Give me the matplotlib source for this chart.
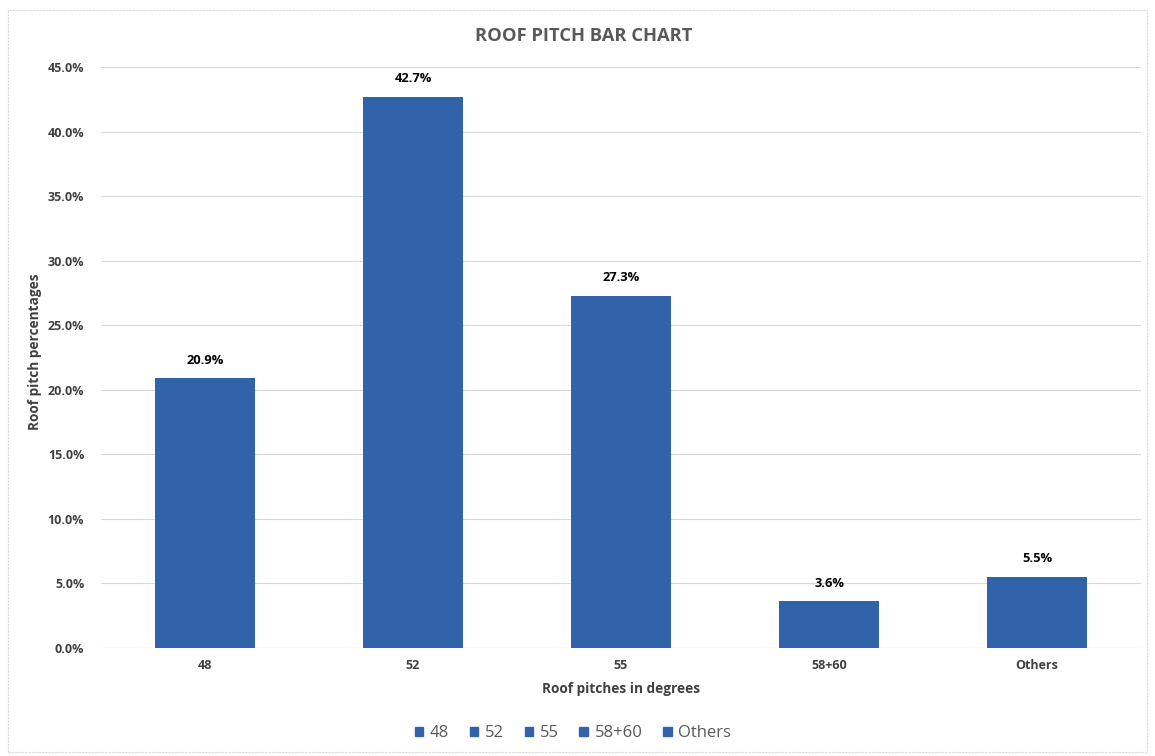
import numpy as np
import matplotlib.pyplot as plt
from matplotlib.patches import Rectangle
from matplotlib.ticker import FuncFormatter

# Roof pitch distribution
pitches = ['48', '52', '55', '58+60', 'Others']
percentages = [20.9, 42.7, 27.3, 3.6, 5.5]

bar_color = '#3262AA'
text_color = '#404040'

plt.rcParams['font.family'] = ['Open Sans', 'DejaVu Sans']

fig = plt.figure(figsize=(11.55, 7.56), dpi=100)
ax = fig.add_axes([0.0874, 0.1429, 0.9006, 0.7685])

x = np.arange(len(pitches))
bars = ax.bar(x, percentages, width=0.48, color=bar_color, zorder=3)

for xi, v in zip(x, percentages):
    ax.text(xi, v + 0.9, f'{v:.1f}%', ha='center', va='bottom',
            fontsize=9.3, fontweight='bold', color='black')

ax.set_xlim(-0.5, len(pitches) - 0.5)
ax.set_ylim(0, 45)
ax.set_yticks(np.arange(0, 45.1, 5))
ax.yaxis.set_major_formatter(FuncFormatter(lambda v, _: f'{v:.1f}%'))
ax.set_xticks(x)
ax.set_xticklabels(pitches)
ax.tick_params(axis='both', length=0, labelsize=9, labelcolor=text_color)
ax.tick_params(axis='x', pad=8)
ax.tick_params(axis='y', pad=12)
for lbl in ax.get_xticklabels() + ax.get_yticklabels():
    lbl.set_fontweight('bold')

ax.grid(axis='y', color='#d9d9d9', linewidth=0.8, zorder=0)
for s in ax.spines.values():
    s.set_visible(False)
ax.axhline(0, color='#d0d0d0', linewidth=0.8, zorder=1)

ax.set_xlabel('Roof pitches in degrees', fontsize=9.8, fontweight='bold',
              color=text_color, labelpad=7)
ax.set_ylabel('Roof pitch percentages', fontsize=9.8, fontweight='bold',
              color=text_color, labelpad=3)
ax.yaxis.set_label_coords(-0.057, 0.51)

fig.text(0.505, 0.953, 'ROOF PITCH BAR CHART', ha='center', va='center',
         fontsize=13.2, fontweight='bold', color='#595959')

# legend entries: one square per category
handles = [Rectangle((0, 0), 1, 1, color=bar_color) for _ in pitches]
fig.legend(handles, pitches, loc='center', bbox_to_anchor=(0.496, 0.030),
           ncol=len(pitches), frameon=False, fontsize=12, handlelength=0.5,
           handleheight=0.5, handletextpad=0.4, columnspacing=1.25,
           labelcolor='#595959')

# outer chart frame
fig.patches.append(Rectangle((0.007, 0.005), 0.986, 0.982, transform=fig.transFigure,
                             fill=False, edgecolor='#d9d9d9', linewidth=0.8,
                             linestyle=(0, (2, 1))))

fig.savefig('out.png', dpi=100, facecolor='white')
